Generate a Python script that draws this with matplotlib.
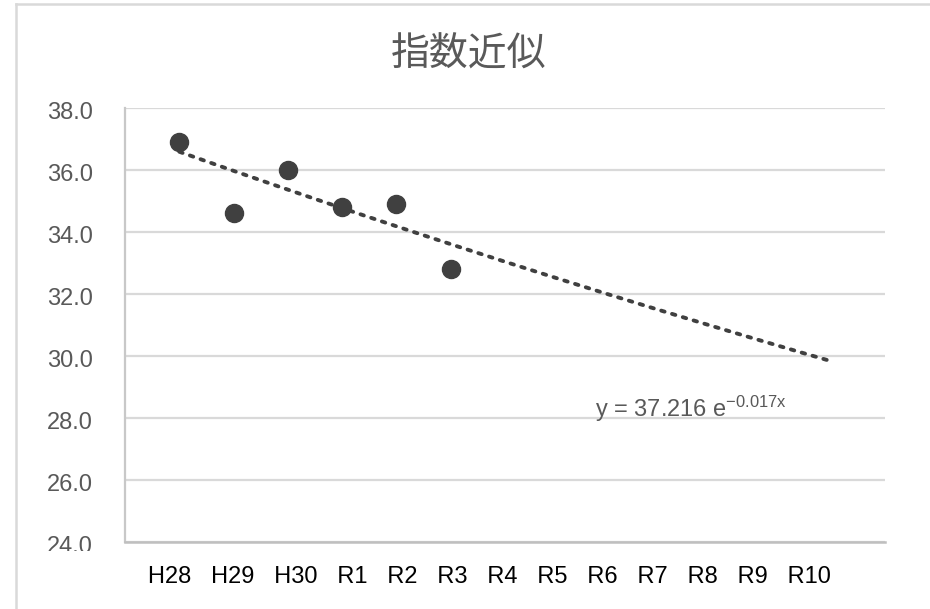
import numpy as np
import matplotlib
matplotlib.use("Agg")
import matplotlib.pyplot as plt
from matplotlib.lines import Line2D
from matplotlib.patches import Rectangle
import matplotlib.transforms as mtransforms

plt.rcParams['font.family'] = ['Liberation Sans', 'DejaVu Sans']
plt.rcParams['mathtext.fontset'] = 'custom'
plt.rcParams['mathtext.rm'] = 'Liberation Sans'
plt.rcParams['mathtext.it'] = 'Liberation Sans'

# 年度ラベルと実測値
labels = ['H28', 'H29', 'H30', 'R1', 'R2', 'R3', 'R4', 'R5', 'R6', 'R7', 'R8', 'R9', 'R10']
obs_x = [1, 2, 3, 4, 5, 6]
obs_y = [36.9, 34.6, 36.0, 34.8, 34.9, 32.8]

# 指数近似の係数 y = a * exp(b * x)
coef_a = 37.216
coef_b = -0.017

yticks = [24.0, 26.0, 28.0, 30.0, 32.0, 34.0, 36.0, 38.0]

grid_col = '#d9d9d9'
text_col = '#595959'
mark_col = '#404040'

fig = plt.figure(figsize=(9.3, 6.09), dpi=100)
ax = fig.add_axes([0.1344, 0.110, 0.8172, 0.7127])

# 近似曲線
xs = np.linspace(1, len(labels), 200)
ax.plot(xs, coef_a * np.exp(coef_b * xs), color=mark_col, lw=2.8,
        linestyle=(0, (0.9, 2.0)), dash_capstyle='round', zorder=3)

# 実測値
ax.plot(obs_x, obs_y, 'o', color=mark_col, markersize=13, zorder=4)

ax.set_xlim(0, 14)
ax.set_ylim(24, 38)
ax.set_xticks([])
ax.set_yticks(yticks)
ax.set_yticklabels([])
ax.tick_params(axis='y', length=0)
ax.grid(axis='y', color=grid_col, lw=1.6)
ax.set_axisbelow(True)
for s in ['top', 'right']:
    ax.spines[s].set_visible(False)
ax.spines['left'].set_color('#c8c8c8')
ax.spines['left'].set_linewidth(1.6)
ax.spines['bottom'].set_color('#bfbfbf')
ax.spines['bottom'].set_linewidth(1.8)

# 目盛ラベル（少し下にずらす、一番下は下側が切れる）
clip_rect = Rectangle((0, 58.5), 930, 560, transform=None)
lab_tr = mtransforms.blended_transform_factory(fig.transFigure, ax.transData)
lab_tr = lab_tr + mtransforms.ScaledTranslation(0, -3.5 / 72, fig.dpi_scale_trans)
for v in yticks:
    t = fig.text(0.1, v, '%.1f' % v, transform=lab_tr, fontsize=17, color=text_col,
                 ha='right', va='center')
    t.set_clip_path(clip_rect)

# 年度ラベル（一行のテキスト）
fig.text(0.1595, 0.053, '   '.join(labels), fontsize=17, color='black',
         ha='left', va='center')

# 数式
ax.text(8.66, 28.05, r'y = 37.216 e$^{\mathregular{-0.017x}}$', fontsize=17,
        color=text_col, ha='left', va='baseline')

# タイトル
fig.text(0.504, 0.91, '指数近似', fontsize=28, color=text_col,
         family=['Noto Sans CJK JP', 'DejaVu Sans'], ha='center', va='center')

# 外枠（左と上）
fig.add_artist(Line2D([0.0172, 0.0172], [0, 0.9934], transform=fig.transFigure,
                      color=grid_col, lw=1.8))
fig.add_artist(Line2D([0.0172, 1.0], [0.9934, 0.9934], transform=fig.transFigure,
                      color=grid_col, lw=1.8))

fig.savefig('out.png', dpi=100)
